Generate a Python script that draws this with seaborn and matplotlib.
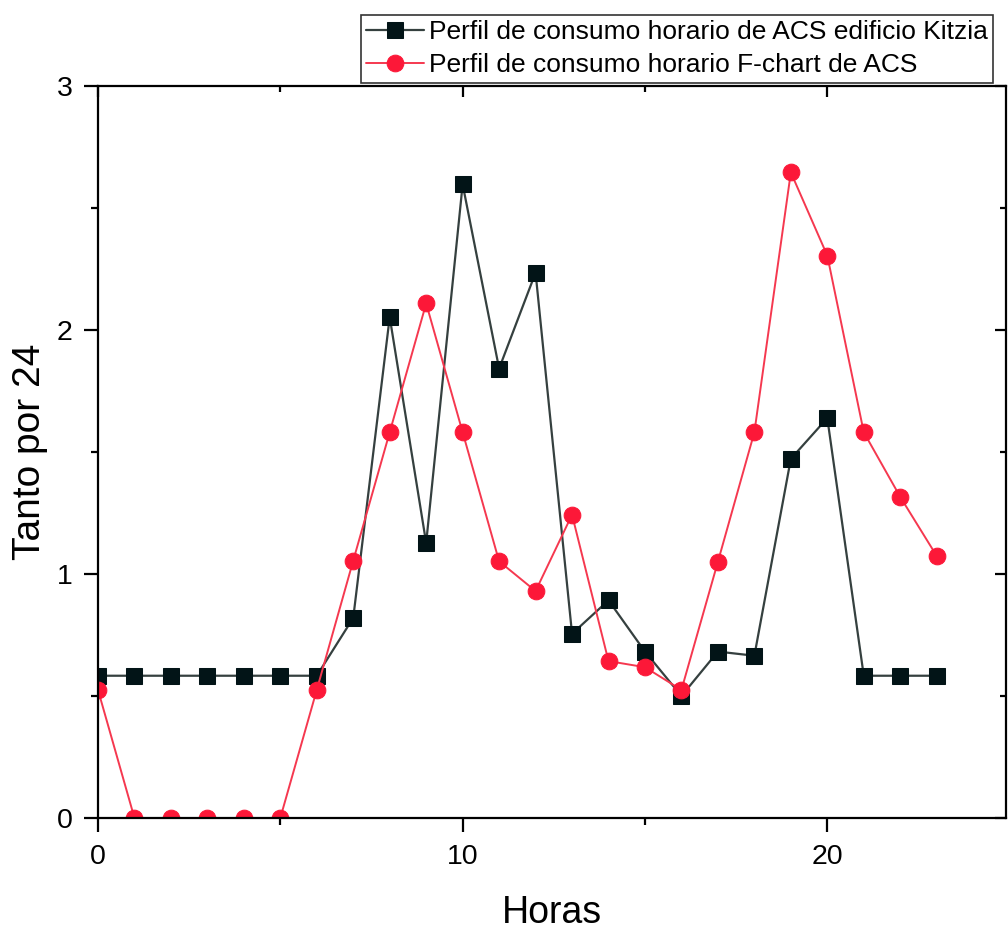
import numpy as np
import pandas as pd
import matplotlib
matplotlib.use("Agg")
import matplotlib.pyplot as plt
from matplotlib.ticker import MultipleLocator, NullFormatter
import seaborn as sns

# Hourly domestic hot water (ACS) consumption profiles, expressed per 24
hours = list(range(24))
kitzia = [0.583, 0.583, 0.583, 0.583, 0.583, 0.583, 0.583, 0.82, 2.053, 1.127,
          2.597, 1.842, 2.235, 0.755, 0.892, 0.682, 0.50, 0.682, 0.665, 1.472,
          1.639, 0.583, 0.583, 0.583]
fchart = [0.525, 0.0, 0.0, 0.0, 0.0, 0.0, 0.525, 1.055, 1.581, 2.109,
          1.581, 1.052, 0.93, 1.243, 0.643, 0.618, 0.525, 1.05, 1.581, 2.646,
          2.305, 1.581, 1.316, 1.074]
label_kitzia = "Perfil de consumo horario de ACS edificio Kitzia"
label_fchart = "Perfil de consumo horario F-chart de ACS"

sns.set_theme(style="ticks")
plt.rcParams["font.family"] = ["Liberation Sans", "DejaVu Sans"]
plt.rcParams["text.color"] = "black"
plt.rcParams["axes.labelcolor"] = "black"
plt.rcParams["xtick.color"] = "black"
plt.rcParams["ytick.color"] = "black"

fig = plt.figure(figsize=(10.08, 9.31), dpi=100)
ax = fig.add_axes([0.0972, 0.1214, 0.9008, 0.7862])

df = pd.DataFrame({"Horas": hours, "kitzia": kitzia, "fchart": fchart})

sns.lineplot(data=df, x="Horas", y="kitzia", ax=ax, color="#35403f", lw=1.6,
             marker="s", markersize=11.5, markerfacecolor="#021417",
             markeredgecolor="#021417", label=label_kitzia)
sns.lineplot(data=df, x="Horas", y="fchart", ax=ax, color="#f5384f", lw=1.4,
             marker="o", markersize=12, markerfacecolor="#fc1838",
             markeredgecolor="#fc1838", label=label_fchart)

ax.set_xlim(0, 24.9)
ax.set_ylim(0, 3)
ax.xaxis.set_major_locator(MultipleLocator(10))
ax.xaxis.set_minor_locator(MultipleLocator(5))
ax.yaxis.set_major_locator(MultipleLocator(1))
ax.yaxis.set_minor_locator(MultipleLocator(0.5))

for sp in ax.spines.values():
    sp.set_linewidth(1.6)
    sp.set_color("black")
    sp.set_visible(True)

ax.tick_params(which="major", direction="out", length=10, width=1.6,
               labelsize=20.5, colors="black")
ax.tick_params(axis="x", which="major", pad=8.5)
ax.tick_params(axis="y", which="major", pad=8.5)
ax.tick_params(which="minor", direction="out", length=5, width=1.6)

# inward ticks on the opposite sides
top = ax.secondary_xaxis("top")
top.xaxis.set_major_locator(MultipleLocator(10))
top.xaxis.set_minor_locator(MultipleLocator(5))
top.tick_params(which="major", direction="in", length=8, width=1.6, labeltop=False)
top.tick_params(which="minor", direction="in", length=4, width=1.6)
top.xaxis.set_major_formatter(NullFormatter())
right = ax.secondary_yaxis("right")
right.yaxis.set_major_locator(MultipleLocator(1))
right.yaxis.set_minor_locator(MultipleLocator(0.5))
right.tick_params(which="major", direction="in", length=8, width=1.6, labelright=False)
right.tick_params(which="minor", direction="in", length=4, width=1.6)
right.yaxis.set_major_formatter(NullFormatter())

ax.set_xlabel("Horas", fontsize=27, labelpad=18)
ax.set_ylabel("Tanto por 24", fontsize=28, labelpad=6)

leg = ax.legend(loc="upper right", bbox_to_anchor=(1.0, 1.0),
                bbox_transform=fig.transFigure, fontsize=19,
                frameon=True, fancybox=False, edgecolor="black",
                handlelength=2.2, handletextpad=0.2, borderpad=0.2,
                labelspacing=0.36, borderaxespad=0.55)
leg.get_frame().set_linewidth(1.2)
for t in leg.get_texts():
    t.set_color("black")

fig.savefig("out.png", dpi=100)
